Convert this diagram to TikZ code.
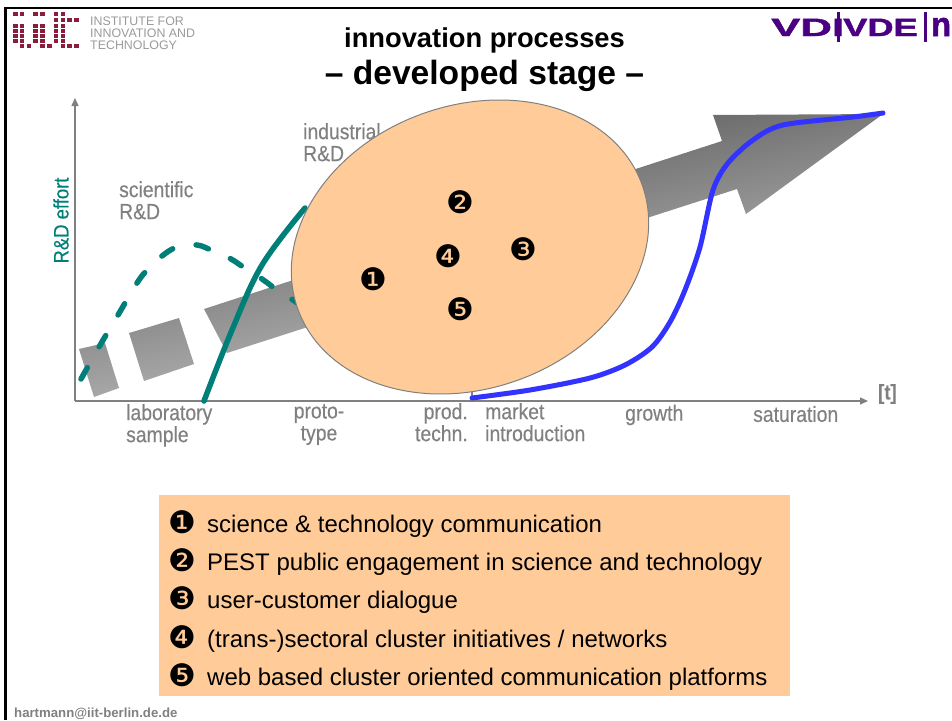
\documentclass[tikz,border=0pt]{standalone}
\usepackage{xcolor}
\usepackage{graphicx}
\usepackage{fontspec}
\usepackage{tikz}
\usetikzlibrary{shapes.geometric, arrows.meta, positioning}
\setmainfont{Liberation Sans}
\newfontfamily\narrowfont[FakeStretch=0.88,FakeBold=0.35]{Liberation Sans}
\newfontfamily\logofont[FakeBold=1.5]{Liberation Sans}
\newfontfamily\dingfont{DejaVu Sans}
\definecolor{boxorange}{HTML}{FFCC99}
\definecolor{rdteal}{HTML}{007F78}
\definecolor{labelgray}{HTML}{808080}
\definecolor{iitred}{HTML}{8C1C3C}
\definecolor{vdipurple}{HTML}{4B0082}
\definecolor{curveblue}{HTML}{3333FF}
\tikzset{
    graylabel/.style={text=labelgray,font=\narrowfont\fontsize{22}{22}\selectfont,inner sep=0pt,align=left},
    listtext/.style={anchor=west,inner sep=0pt,font=\fontsize{24}{26}\selectfont},
    listnum/.style={inner sep=0pt,font=\dingfont\fontsize{31}{31}\selectfont},
    axisline/.style={draw=labelgray,line width=1.4pt},
    tealcurve/.style={draw=rdteal,line width=5.5pt,line cap=round},
    logoword/.style={text=vdipurple,inner sep=0pt,font=\logofont\bfseries\fontsize{25}{25}\selectfont}
}
\begin{document}
\begin{tikzpicture}[x=1pt,y=-1pt]
    \useasboundingbox (0,0) rectangle (952,720);
    % Frame
    \draw[line width=2.6pt] (5.3,720) -- (5.3,8) -- (952,8);
    % IIT logo
    \foreach \doty/\dotcols in {14/{0,1,3,4,6,7},20/{6,7,8,9},26/{0,1,3,4,6,7},31/{0,1,3,4,6,7},36/{0,1,3,4,6,7},41/{0,1,3,4,6,7},46/{1,2,4,5,7,8,9}}
        \foreach \dotx in \dotcols
            \fill[iitred] ({15.3+6.8*\dotx-2.3},\doty-2) rectangle ++(4.6,4);
    \node[anchor=west,inner sep=0pt,text=labelgray!80,align=left,font=\fontsize{12.4}{12}\selectfont] (iittext) at (90,33) {INSTITUTE FOR\\INNOVATION AND\\TECHNOLOGY};
    % VDI VDE logo
    \node[logoword,anchor=base west] (vdi) at (771,36) {\scalebox{1.75}[1]{VDI}};
    \node[logoword,anchor=base west] (vde) at (843,36) {\scalebox{1.45}[1]{VDE}};
    \node[logoword,anchor=base west] (vdin) at (931,36) {\scalebox{1.3}[1.35]{n}};
    \fill[vdipurple] (837,12) rectangle (839.5,42);
    \fill[vdipurple] (924,12) rectangle (926.5,42);
    % Title
    \node[inner sep=0pt,font=\bfseries\fontsize{27.3}{27.3}\selectfont] (title) at (484.5,40.5) {innovation processes};
    \node[inner sep=0pt,font=\bfseries\fontsize{33.6}{33.6}\selectfont] (subtitle) at (484.5,75.5) {-- developed stage --};
    % Big arrow
    \shade[top color=black!72,bottom color=black!15,shading angle=12]
        (79,349) -- (105,343) -- (119,388) -- (94,397) -- cycle
        (129,333) -- (179,318) -- (194,364) -- (144,381) -- cycle
        (204,309) -- (722,141) -- (713,115) -- (883,114) -- (746,214) -- (737,189) -- (227,353) -- cycle;
    % Axes
    \coordinate (origin) at (75,401);
    \coordinate (yend) at (75,98);
    \coordinate (xend) at (868,401);
    \coordinate (prodfoot) at (472,401);
    \coordinate (prodtop) at (472,390);
    \draw[axisline,-{Triangle[length=8pt,width=7pt]}] (origin) -- (yend);
    \draw[axisline,-{Triangle[length=8pt,width=7pt]}] (origin) -- (xend);
    \draw[axisline] (prodfoot) -- (prodtop);
    % Labels of the phases
    \node[graylabel,anchor=north west] (scientific) at (119,181) {scientific\\R\&D};
    \node[graylabel,anchor=north west] (industrial) at (303,123) {industrial\\R\&D};
    \node[graylabel,anchor=north west] (laboratory) at (126,404) {laboratory\\sample};
    \node[graylabel,anchor=north,align=center] (proto) at (319,404) {proto-\\type};
    \node[graylabel,anchor=north east,align=right] (prod) at (468,403) {prod.\\techn.};
    \node[graylabel,anchor=north west] (market) at (485,403) {market\\introduction};
    \node[graylabel,anchor=west] (growth) at (625,415) {growth};
    \node[graylabel,anchor=west] (saturation) at (753,414) {saturation};
    \node[graylabel,anchor=west,font=\bfseries\narrowfont\fontsize{21}{21}\selectfont] (timelabel) at (878,394) {[t]};
    \node[graylabel,text=rdteal,rotate=90,font=\narrowfont\fontsize{21}{22}\selectfont] (effort) at (61,220.5) {R\&D effort};
    % Curves
    \draw[tealcurve,dash pattern=on 13pt off 24pt] plot[smooth,tension=0.6] coordinates {(81,379) (99,347) (118,315) (137,283) (148,269) (162,256) (177,247) (197,245) (213,251) (231,259) (246,269) (262,279) (277,290) (293,300) (310,312)};
    \draw[tealcurve] plot[smooth,tension=0.6] coordinates {(204,401) (232,330) (262,265) (305,208)};
    % Ellipse
    \node[ellipse,draw=labelgray,fill=boxorange,line width=1pt,inner sep=0pt,minimum width=366pt,minimum height=283pt,rotate=20] (cloud) at (470,247) {};
    \node[listnum] (cloudone) at (373,279) {❶};
    \node[listnum] (cloudtwo) at (460,202) {❷};
    \node[listnum] (cloudthree) at (523,249) {❸};
    \node[listnum] (cloudfour) at (448,256) {❹};
    \node[listnum] (cloudfive) at (460,309) {❺};
    \draw[draw=curveblue,line width=5pt,line cap=round] plot[smooth,tension=0.5] coordinates {(472,398) (530,390) (590,378) (625,365) (652,347) (670,322) (685,290) (700,247) (713,190) (728,163) (753,140) (783,125) (853,117) (883,113)};
    % Legend
    \node[draw=none,fill=boxorange,inner sep=0pt,minimum width=631pt,minimum height=201pt] (legend) at (474.5,595.5) {};
    \node[listnum] (legendone) at (182,522) {❶};
    \node[listnum] (legendtwo) at (182,560) {❷};
    \node[listnum] (legendthree) at (182,598) {❸};
    \node[listnum] (legendfour) at (182,637) {❹};
    \node[listnum] (legendfive) at (182,675) {❺};
    \node[listtext] (itemone) at (207,526) {science \& technology communication};
    \node[listtext] (itemtwo) at (207,564) {PEST public engagement in science and technology};
    \node[listtext] (itemthree) at (207,602) {user-customer dialogue};
    \node[listtext] (itemfour) at (207,641) {(trans-)sectoral cluster initiatives / networks};
    \node[listtext] (itemfive) at (207,679) {web based cluster oriented communication platforms};
    % Footer
    \node[anchor=west,inner sep=0pt,text=labelgray,font=\bfseries\fontsize{13.2}{13.2}\selectfont] (mail) at (14,714) {hartmann@iit-berlin.de.de};
\end{tikzpicture}
\end{document}
